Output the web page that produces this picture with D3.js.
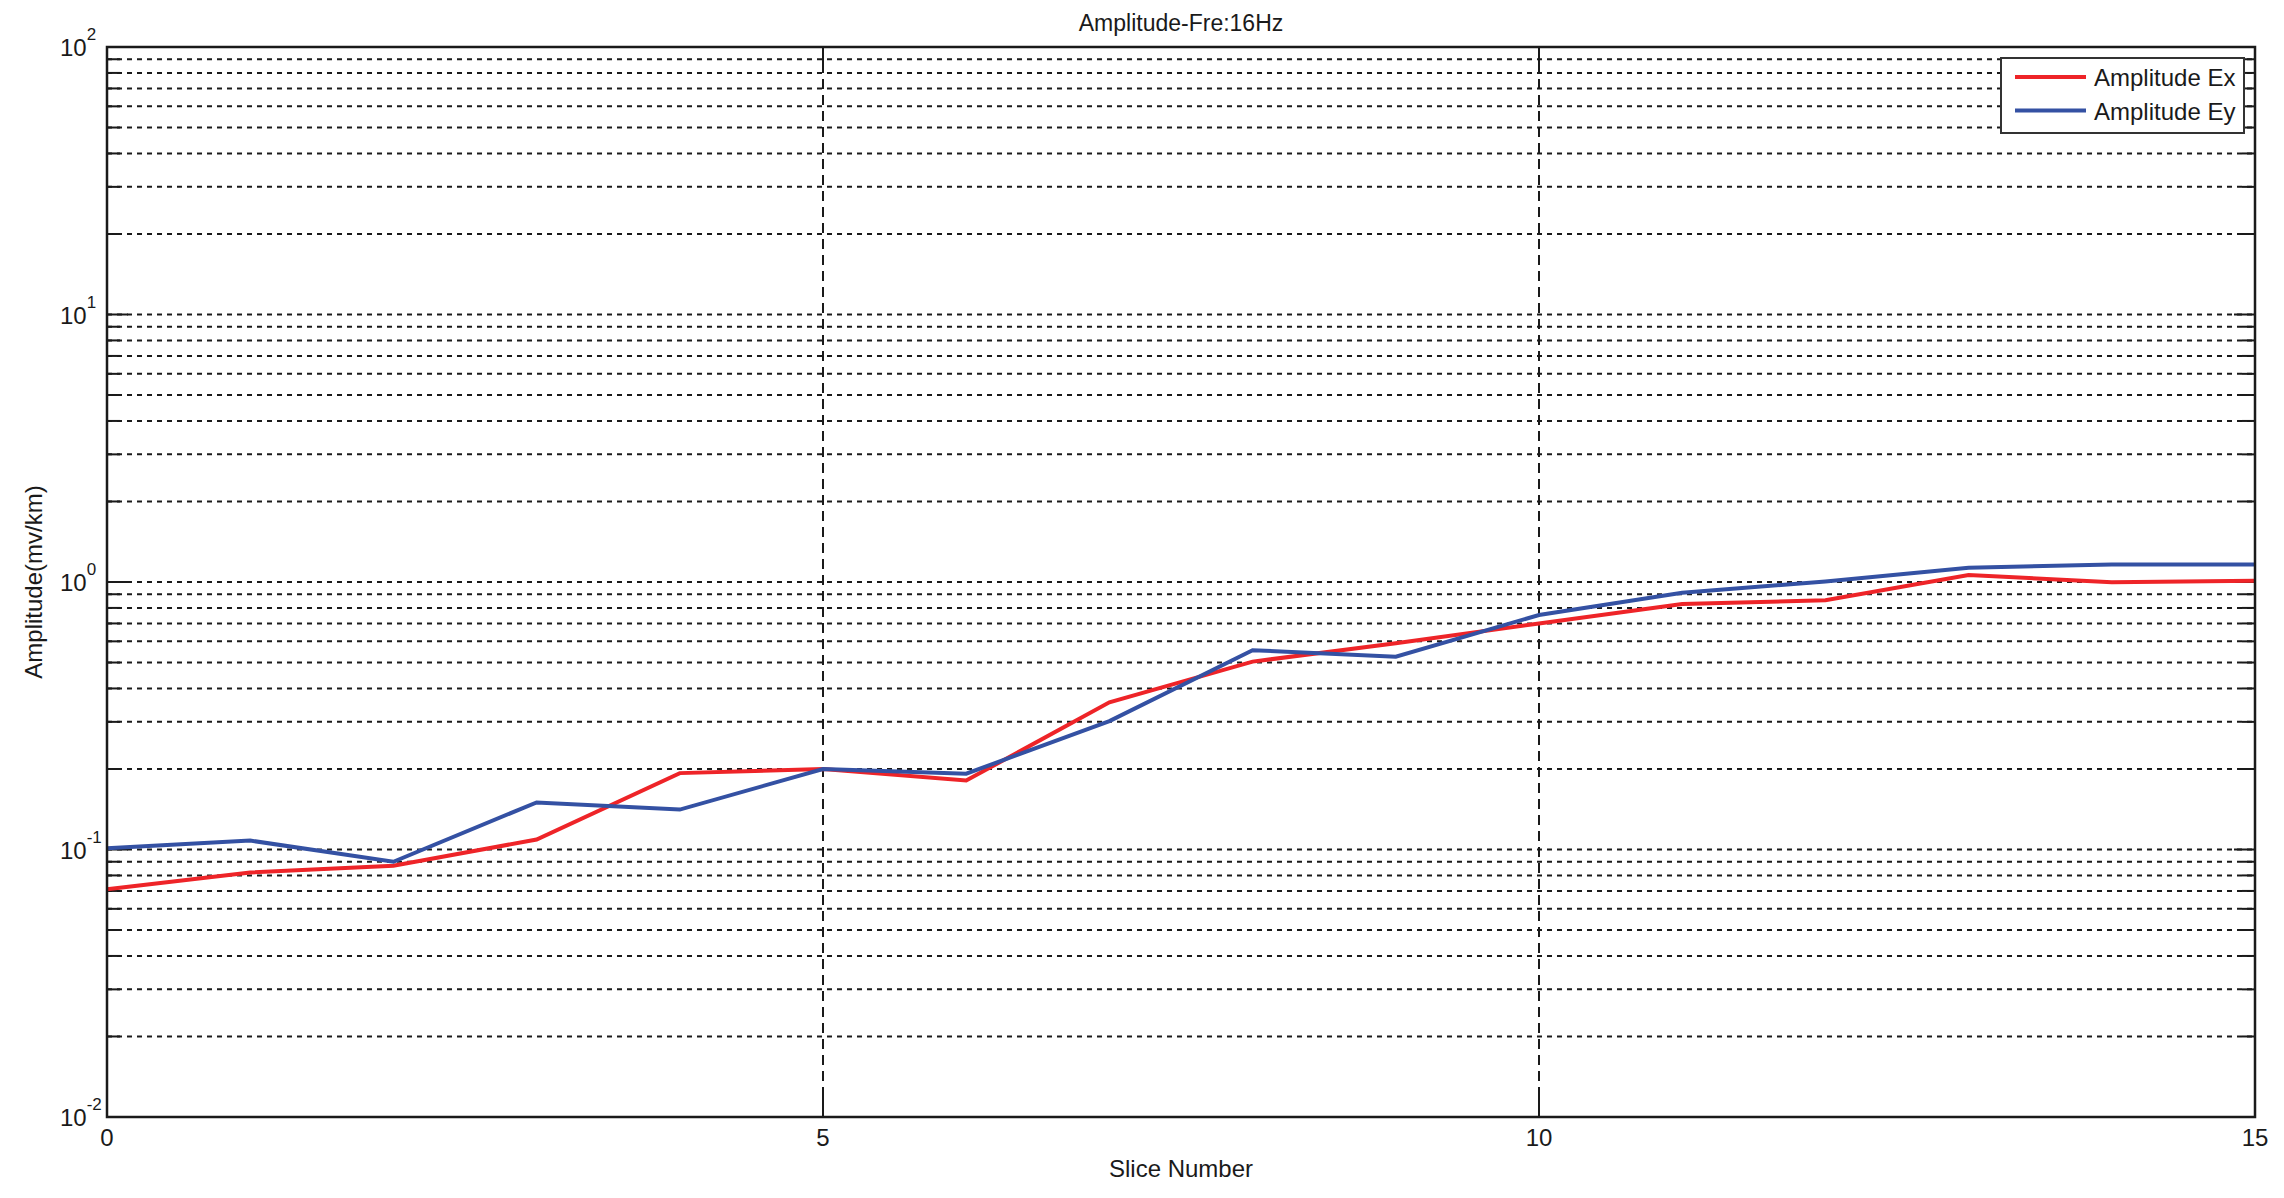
<!DOCTYPE html>
<html>
<head>
<meta charset="utf-8">
<script src="https://cdn.jsdelivr.net/npm/d3@7"></script>
<style>
  html, body { margin: 0; padding: 0; background: #fff; }
  svg { display: block; }
  text { font-family: "Liberation Sans", Arial, sans-serif; fill: #1a1a1a; }
</style>
</head>
<body>
<svg id="chart" width="2284" height="1198"></svg>
<script>
// ---- data ----
const slices = [0, 1, 2, 3, 4, 5, 6, 7, 8, 9, 10, 11, 12, 13, 14, 15];
const amplitudeEx = [0.071, 0.082, 0.087, 0.109, 0.193, 0.200, 0.181, 0.355, 0.504, 0.59, 0.70, 0.827, 0.855, 1.062, 0.997, 1.011];
const amplitudeEy = [0.101, 0.108, 0.090, 0.150, 0.141, 0.200, 0.192, 0.302, 0.556, 0.526, 0.753, 0.912, 1.004, 1.13, 1.162, 1.163];
const seriesNames = ["Amplitude Ex", "Amplitude Ey"];
const seriesColors = ["#ee2428", "#3451a3"];
const xTicks = [0, 5, 10, 15];
const yMajorExponents = [-2, -1, 0, 1, 2];
const titleText = "Amplitude-Fre:16Hz";
const xLabelText = "Slice Number";
const yLabelText = "Amplitude(mv/km)";

// ---- layout ----
const pLeft = 107, pRight = 2255, pTop = 47, pBottom = 1117;
const svg = d3.select("#chart");

const x = d3.scaleLinear().domain([0, 15]).range([pLeft, pRight]);
const y = d3.scaleLog().domain([0.01, 100]).range([pBottom, pTop]);

// gridline values (major + minor)
const yGrid = [];
for (let k = -2; k <= 1; k++) {
  for (let m = 1; m <= 9; m++) yGrid.push(m * Math.pow(10, k));
}
yGrid.push(100);

const gGrid = svg.append("g");
gGrid.selectAll("line.hg")
  .data(yGrid.filter(v => v > 0.0100001 && v < 99.999))
  .enter().append("line")
  .attr("x1", pLeft).attr("x2", pRight)
  .attr("y1", d => y(d)).attr("y2", d => y(d))
  .attr("stroke", "#1a1a1a").attr("stroke-width", 2)
  .attr("stroke-dasharray", "5,5");
gGrid.selectAll("line.vg")
  .data(xTicks.filter(v => v > 0 && v < 15))
  .enter().append("line")
  .attr("x1", d => x(d)).attr("x2", d => x(d))
  .attr("y1", pTop).attr("y2", pBottom)
  .attr("stroke", "#1a1a1a").attr("stroke-width", 2)
  .attr("stroke-dasharray", "10,6");

// ticks
const isMajor = v => Math.abs(Math.log10(v) - Math.round(Math.log10(v))) < 1e-9;
const gTicks = svg.append("g").attr("stroke", "#1a1a1a").attr("stroke-width", 2);
gTicks.selectAll("line.yl").data(yGrid).enter().append("line")
  .attr("x1", pLeft).attr("x2", d => pLeft + (isMajor(d) ? 21 : 13))
  .attr("y1", d => y(d)).attr("y2", d => y(d));
gTicks.selectAll("line.yr").data(yGrid).enter().append("line")
  .attr("x1", pRight).attr("x2", d => pRight - (isMajor(d) ? 21 : 13))
  .attr("y1", d => y(d)).attr("y2", d => y(d));
gTicks.selectAll("line.xb").data(xTicks).enter().append("line")
  .attr("x1", d => x(d)).attr("x2", d => x(d))
  .attr("y1", pBottom).attr("y2", pBottom - 21);
gTicks.selectAll("line.xt").data(xTicks).enter().append("line")
  .attr("x1", d => x(d)).attr("x2", d => x(d))
  .attr("y1", pTop).attr("y2", pTop + 21);

// series lines
const line = d3.line().x((d, i) => x(slices[i])).y(d => y(d));
[amplitudeEx, amplitudeEy].forEach((vals, si) => {
  svg.append("path")
    .datum(vals)
    .attr("d", line)
    .attr("fill", "none")
    .attr("stroke", seriesColors[si])
    .attr("stroke-width", 4)
    .attr("stroke-linejoin", "miter");
});

// axes box
svg.append("rect")
  .attr("x", pLeft).attr("y", pTop)
  .attr("width", pRight - pLeft).attr("height", pBottom - pTop)
  .attr("fill", "none").attr("stroke", "#1a1a1a").attr("stroke-width", 2.5);

// x tick labels
svg.append("g").selectAll("text").data(xTicks).enter().append("text")
  .attr("x", d => x(d)).attr("y", 1146)
  .attr("text-anchor", "middle").attr("font-size", 24)
  .text(d => d);

// y tick labels 10^k
const yl = svg.append("g").selectAll("text").data(yMajorExponents).enter().append("text")
  .attr("x", 60).attr("y", d => y(Math.pow(10, d)) + 9)
  .attr("font-size", 24);
yl.append("tspan").text("10");
yl.append("tspan").attr("dy", -16).attr("font-size", 17).text(d => d);

// title
svg.append("text").attr("x", (pLeft + pRight) / 2).attr("y", 31)
  .attr("text-anchor", "middle").attr("font-size", 23).text(titleText);
// x label
svg.append("text").attr("x", (pLeft + pRight) / 2).attr("y", 1177)
  .attr("text-anchor", "middle").attr("font-size", 24).text(xLabelText);
// y label
svg.append("text")
  .attr("transform", `translate(42,${(pTop + pBottom) / 2}) rotate(-90)`)
  .attr("text-anchor", "middle").attr("font-size", 24).text(yLabelText);

// legend
const lg = svg.append("g");
lg.append("rect").attr("x", 2001).attr("y", 58).attr("width", 243).attr("height", 75)
  .attr("fill", "#fff").attr("stroke", "#333").attr("stroke-width", 2);
seriesNames.forEach((name, i) => {
  const ly = 77 + i * 33.5;
  lg.append("line").attr("x1", 2015).attr("x2", 2086).attr("y1", ly).attr("y2", ly)
    .attr("stroke", seriesColors[i]).attr("stroke-width", 4);
  lg.append("text").attr("x", 2094).attr("y", ly + 9).attr("font-size", 24).text(name);
});
</script>
</body>
</html>
